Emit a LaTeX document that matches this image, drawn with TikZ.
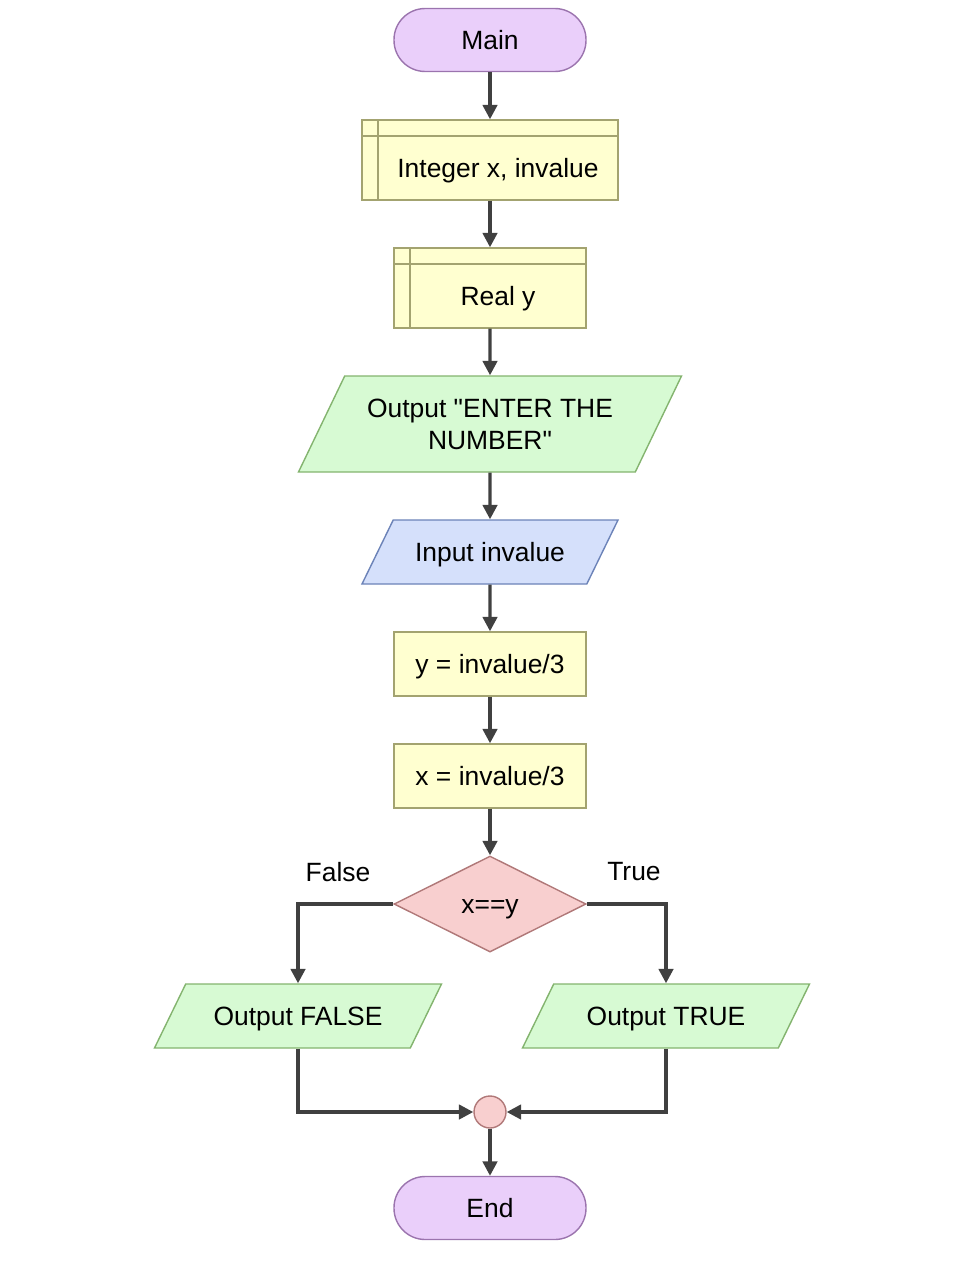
\documentclass[tikz,border=0pt]{standalone}
\usepackage{fontspec}
\setmainfont{Liberation Sans}
\newfontfamily\quotefont{Liberation Sans}
\newcommand{\dq}{{\quotefont\symbol{34}}}
\usetikzlibrary{shapes.geometric,arrows.meta}
\definecolor{termfill}{HTML}{EACFFA}
\definecolor{termline}{HTML}{9B74AE}
\definecolor{declfill}{HTML}{FFFFD0}
\definecolor{declline}{HTML}{A3A370}
\definecolor{outfill}{HTML}{D7FAD3}
\definecolor{outline}{HTML}{84B46F}
\definecolor{infill}{HTML}{D5E0FB}
\definecolor{inline}{HTML}{6C83B8}
\definecolor{testfill}{HTML}{F8CFCF}
\definecolor{testline}{HTML}{B07878}
\definecolor{linegray}{HTML}{404040}
\begin{document}
\begin{tikzpicture}[
  font=\fontsize{18.8}{22.8}\selectfont,
  box/.style={line width=1pt, inner sep=0pt, align=center, text height=0.575cm, text depth=0.1cm},
  terminal/.style={box, rectangle, rounded corners=0.78cm, draw=termline, fill=termfill,
    minimum width=4.8cm, minimum height=1.575cm},
  process/.style={box, rectangle, draw=declline, fill=declfill, minimum height=1.6cm},
  declbox/.style={process, minimum height=2cm, path picture={
    \draw[declline, line width=1pt] ([xshift=0.4cm]path picture bounding box.north west)
      -- ([xshift=0.4cm]path picture bounding box.south west);
    \draw[declline, line width=1pt] ([yshift=-0.4cm]path picture bounding box.north west)
      -- ([yshift=-0.4cm]path picture bounding box.north east);
  }},
  io/.style={box, trapezium, trapezium left angle=64, trapezium right angle=116,
    trapezium stretches body=true, inner ysep=0.4625cm, minimum height=1.6cm},
  decision/.style={box, diamond, draw=testline, fill=testfill, minimum width=4.8cm, minimum height=2.4cm},
  flow/.style={draw=linegray, line width=2.3pt, -{Triangle[length=0.36cm,width=0.36cm]}}
]
  \useasboundingbox (0,0) rectangle (24.1,-32.1);

  \node[terminal] (main) at (12.25,-1.0) {Main};
  \node[declbox, minimum width=6.4cm,
    label={[box, xshift=0.2cm, yshift=-0.2cm]center:Integer x, invalue}] (intdecl) at (12.25,-4.0) {};
  \node[declbox, minimum width=4.8cm,
    label={[box, xshift=0.2cm, yshift=-0.2cm]center:Real y}] (realdecl) at (12.25,-7.2) {};
  \node[io, draw=outline, fill=outfill, text height=, text depth=, inner ysep=0.55cm,
    minimum width=9.575cm, minimum height=2.4cm]
    (prompt) at (12.25,-10.6) {Output \dq ENTER THE\\NUMBER\dq};
  \node[io, draw=inline, fill=infill, minimum width=6.4cm] (readin) at (12.25,-13.8) {Input invalue};
  \node[process, minimum width=4.8cm] (ycalc) at (12.25,-16.6) {y = invalue/3};
  \node[process, minimum width=4.8cm] (xcalc) at (12.25,-19.4) {x = invalue/3};
  \node[decision] (test) at (12.25,-22.6) {x==y};
  \node[io, draw=outline, fill=outfill, minimum width=7.175cm] (outfalse) at (7.45,-25.4) {Output FALSE};
  \node[io, draw=outline, fill=outfill, minimum width=7.175cm] (outtrue) at (16.65,-25.4) {Output TRUE};
  \node[circle, draw=testline, fill=testfill, line width=1pt, minimum size=0.8cm, inner sep=0pt]
    (merge) at (12.25,-27.8) {};
  \node[terminal] (finish) at (12.25,-30.2) {End};

  \node (falselabel) at (8.45,-21.8) {False};
  \node (truelabel) at (15.85,-21.8) {True};

  \foreach \a/\b in {main/intdecl, intdecl/realdecl, realdecl/prompt, prompt/readin,
    readin/ycalc, ycalc/xcalc, xcalc/test, merge/finish}
    \draw[flow] (\a) -- (\b);
  \draw[flow] (test.west) -| (outfalse.north);
  \draw[flow] (test.east) -| (outtrue.north);
  \draw[flow] (outfalse.south) |- (merge.west);
  \draw[flow] (outtrue.south) |- (merge.east);
\end{tikzpicture}
\end{document}
